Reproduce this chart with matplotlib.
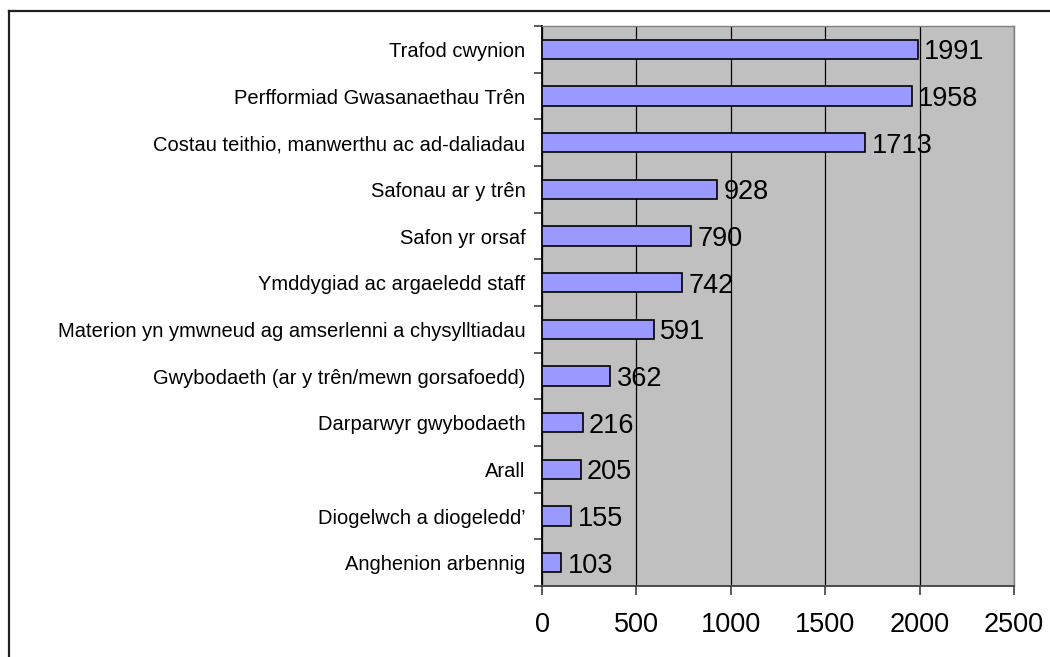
import numpy as np
import matplotlib.pyplot as plt
from matplotlib.lines import Line2D

plt.rcParams['font.family'] = ['Liberation Sans', 'DejaVu Sans']

categories = [
    'Trafod cwynion',
    'Perfformiad Gwasanaethau Trên',
    'Costau teithio, manwerthu ac ad-daliadau',
    'Safonau ar y trên',
    'Safon yr orsaf',
    'Ymddygiad ac argaeledd staff',
    'Materion yn ymwneud ag amserlenni a chysylltiadau',
    'Gwybodaeth (ar y trên/mewn gorsafoedd)',
    'Darparwyr gwybodaeth',
    'Arall',
    'Diogelwch a diogeledd’',
    'Anghenion arbennig',
]
values = [1991, 1958, 1713, 928, 790, 742, 591, 362, 216, 205, 155, 103]
x_ticks = [0, 500, 1000, 1500, 2000, 2500]

fig = plt.figure(figsize=(10.5, 6.57), dpi=100)
ax = fig.add_axes([542 / 1050, 71 / 657, 472 / 1050, 560 / 657])
ax.set_facecolor('#C0C0C0')

y = np.arange(len(categories))[::-1]
ax.barh(y, values, height=0.41, color='#9999FF', edgecolor='black', linewidth=1.2, zorder=3)

for yi, v in zip(y, values):
    ax.annotate(str(v), (v, yi), xytext=(4.5, 0), textcoords='offset points',
                ha='left', va='center_baseline', fontsize=19.5, zorder=4)

ax.set_xlim(0, 2500)
ax.set_ylim(-0.5, len(categories) - 0.5)
ax.set_xticks(x_ticks)
ax.set_xticklabels([str(t) for t in x_ticks], fontsize=19.5)
ax.set_yticks(y)
ax.set_yticklabels(categories, fontsize=14.5)
ax.set_yticks(np.arange(len(categories) + 1) - 0.5, minor=True)

ax.grid(axis='x', color='black', linewidth=0.9, zorder=1)
ax.tick_params(axis='y', which='major', length=0, pad=12)
ax.tick_params(axis='y', which='minor', length=6, width=1.2, color='#404040')
ax.tick_params(axis='x', length=6.5, width=1.2, color='#404040', pad=12)

for side in ['top', 'right']:
    ax.spines[side].set_color('#808080')
    ax.spines[side].set_linewidth(1)
ax.spines['left'].set_color('black')
ax.spines['left'].set_linewidth(1.3)
ax.spines['bottom'].set_color('#404040')
ax.spines['bottom'].set_linewidth(1.3)

# outer frame (left and top edges visible)
fig.add_artist(Line2D([8.5 / 1050, 8.5 / 1050], [0, 1 - 10.5 / 657], color='#202020', linewidth=1.6, transform=fig.transFigure))
fig.add_artist(Line2D([8.5 / 1050, 1], [1 - 10.5 / 657, 1 - 10.5 / 657], color='#202020', linewidth=1.6, transform=fig.transFigure))

fig.savefig('out.png', dpi=100)
